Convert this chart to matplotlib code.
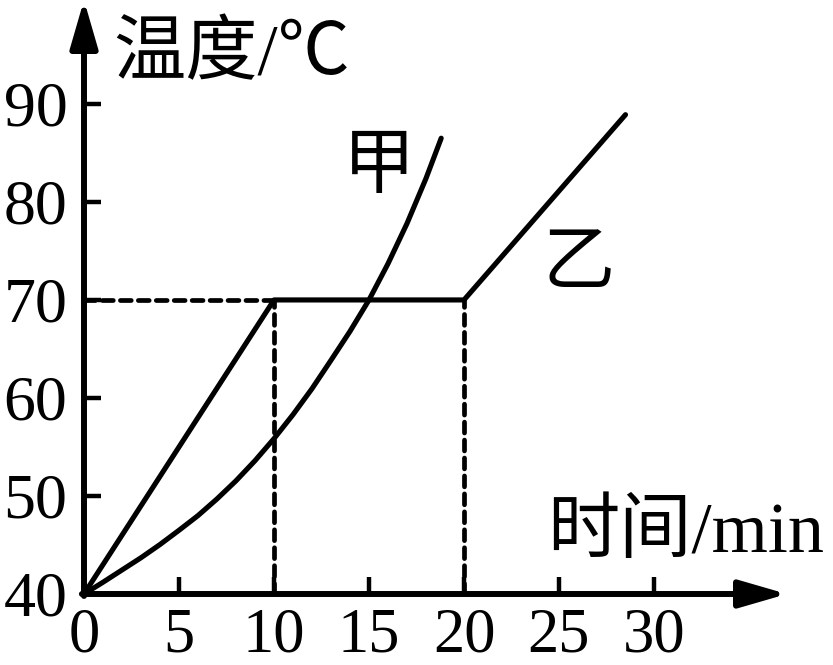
import matplotlib
matplotlib.use("Agg")
import matplotlib.pyplot as plt

plt.rcParams['font.family'] = ['Liberation Serif', 'Noto Sans CJK SC', 'DejaVu Sans']

# ---- data ----
x_ticks = [0, 5, 10, 15, 20, 25, 30]
y_ticks = [40, 50, 60, 70, 80, 90]

jia_x = [0, 1, 2, 3, 4, 5, 6, 7, 8, 9, 10, 11, 12, 13, 14, 15, 16, 17, 18, 18.8]
jia_y = [40, 41.2, 42.45, 43.7, 45.05, 46.5, 48.0, 49.7, 51.55, 53.6, 55.85,
         58.3, 60.95, 63.85, 66.8, 70.0, 73.7, 77.8, 82.4, 86.5]

yi_x = [0, 10, 20, 28.5]
yi_y = [40, 70, 70, 88.9]

melt_temp = 70
melt_start = 10
melt_end = 20

x_label = "时间/min"
y_label = "温度/℃"
jia_label = "甲"
yi_label = "乙"

# ---- figure ----
W, H = 833, 665
fig = plt.figure(figsize=(W / 100, H / 100), dpi=100)
x_max, y_min, y_max = 37.0, 40.0, 100.6
ax = fig.add_axes([84 / W, 71 / H, (787 - 84) / W, 594 / H])
ax.set_xlim(0, x_max)
ax.set_ylim(y_min, y_max)
for s in ax.spines.values():
    s.set_visible(False)

ax.set_xticks(x_ticks)
ax.set_yticks(y_ticks)
ax.tick_params(direction='in', length=12, width=3.2, color='k')
ax.tick_params(axis='x', pad=9.5, labelsize=45)
ax.tick_params(axis='y', pad=12, labelsize=46)

# axes with arrow heads
arrow_kw = dict(arrowstyle='-|>,head_length=1.45,head_width=0.42', lw=4.3,
                color='k', shrinkA=0, shrinkB=0, mutation_scale=20)
ax.annotate('', xy=(x_max, y_min), xytext=(-0.11, y_min), arrowprops=arrow_kw,
            annotation_clip=False)
ax.annotate('', xy=(0, y_max), xytext=(0, y_min - 0.2), arrowprops=arrow_kw,
            annotation_clip=False)

# curves
ax.plot(jia_x, jia_y, color='k', lw=3.7, solid_joinstyle='round',
        solid_capstyle='round', clip_on=False)
ax.plot(yi_x, yi_y, color='k', lw=3.7, solid_joinstyle='round',
        solid_capstyle='round', clip_on=False)

# dashed guide lines
dash_kw = dict(color='k', lw=3.4, linestyle=(0, (2.3, 1.5)), dash_capstyle='round')
ax.plot([0, melt_start], [melt_temp, melt_temp], **dash_kw)
ax.plot([melt_start, melt_start], [y_min, melt_temp], **dash_kw)
ax.plot([melt_end, melt_end], [y_min, melt_temp], **dash_kw)

# text labels
ax.text(1.55, 94.9, y_label, fontsize=52, ha='left', va='center', clip_on=False)
ax.text(24.4, 46.2, x_label, fontsize=52, ha='left', va='center', clip_on=False)
ax.text(15.5, 83.3, jia_label, fontsize=52, ha='center', va='center')
ax.text(26.05, 73.4, yi_label, fontsize=52, ha='center', va='center')

fig.savefig('out.png', dpi=100)
